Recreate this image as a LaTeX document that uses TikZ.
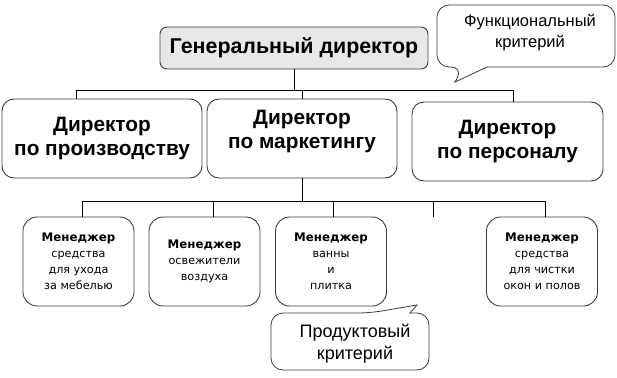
\documentclass[tikz,border=0pt]{standalone}
\usepackage{fontspec}
\setmainfont{Liberation Sans}
\newfontfamily\mgrfont{DejaVu Sans}
\usepackage{xcolor}
\definecolor{headgray}{RGB}{232,232,232}
\definecolor{framegray}{RGB}{60,60,60}

\begin{document}
\begin{tikzpicture}[x=1pt, y=-1pt,
    dirbox/.style={draw=framegray, line width=0.9pt, rounded corners=12pt, align=center,
      font=\fontsize{20.8}{24}\selectfont\bfseries, inner sep=0pt, minimum height=79pt},
    mgrbox/.style={draw=framegray, line width=0.9pt, rounded corners=14pt, align=center,
      font=\mgrfont\fontsize{11.2}{16}\selectfont, inner sep=0pt, minimum width=111pt, minimum height=89pt},
    note/.style={draw=framegray, line width=0.8pt, rounded corners=12pt},
    wire/.style={line width=0.8pt}]
    \useasboundingbox (0,0) rectangle (617,377);
    \newcommand\mgrhead{\textbf{\fontsize{11.8}{16}\selectfont Менеджер}}

    % Top level
    \node[dirbox, fill=headgray, rounded corners=7pt, minimum width=268pt, minimum height=42pt,
      font=\fontsize{21.4}{24}\selectfont\bfseries] (gen) at (294,48) {Генеральный директор};

    % Directors
    \node[dirbox, minimum width=200pt] (prod) at (102,138.5) {Директор\\по производству};
    \node[dirbox, minimum width=190pt, text depth=19pt] (mark) at (302,138.5) {Директор\\по маркетингу};
    \node[dirbox, minimum width=191pt] (pers) at (507.5,141.5) {Директор\\по персоналу};

    % Managers
    \node[mgrbox] (mgr1) at (78.5,261.5) {\mgrhead\\средства\\для ухода\\за мебелью};
    \node[mgrbox] (mgr2) at (204.5,261.5) {\mgrhead\\освежители\\воздуха};
    \node[mgrbox] (mgr3) at (331,261.5) {\mgrhead\\ванны\\и\\плитка};
    \node[mgrbox] (mgr4) at (542,261.5) {\mgrhead\\средства\\для чистки\\окон и полов};

    % Buses
    \coordinate (topbus) at (0,90);
    \coordinate (lowbus) at (0,201);
    \coordinate (gap) at (433,217);

    \draw[wire] (gen.south) -- (gen.south |- topbus);
    \draw[wire] ([xshift=-26pt]prod.north) |- ([xshift=5.5pt]pers.north |- topbus) -- ([xshift=5.5pt]pers.north);
    \draw[wire] (mark.north) -- (mark.north |- topbus);

    \draw[wire] (mark.south) -- (mark.south |- lowbus);
    \draw[wire] ([xshift=3.5pt]mgr1.north) |- ([xshift=3pt]mgr4.north |- lowbus) -- ([xshift=3pt]mgr4.north);
    \draw[wire] ([xshift=8.5pt]mgr2.north) -- ([xshift=8.5pt]mgr2.north |- lowbus);
    \draw[wire] ([xshift=2pt]mgr3.north) -- ([xshift=2pt]mgr3.north |- lowbus);
    \draw[wire] (gap) -- (gap |- lowbus);

    % Callouts
    \node[font=\fontsize{16.5}{21}\selectfont, align=center] (funcnote) at (530,33) {Функциональный\\критерий};
    \draw[note] (487,67) -| (615,5) -| (437,67) -- (463,67) [sharp corners] -- (455,82) -- cycle;

    \node[font=\fontsize{18}{22}\selectfont, align=center] (prodnote) at (355,344) {Продуктовый\\критерий};
    \draw[note] (370,313) [sharp corners] -- (417,305) -- (410,313) [rounded corners=12pt] -| (429,370) -| (271,313) -- cycle;
\end{tikzpicture}
\end{document}
